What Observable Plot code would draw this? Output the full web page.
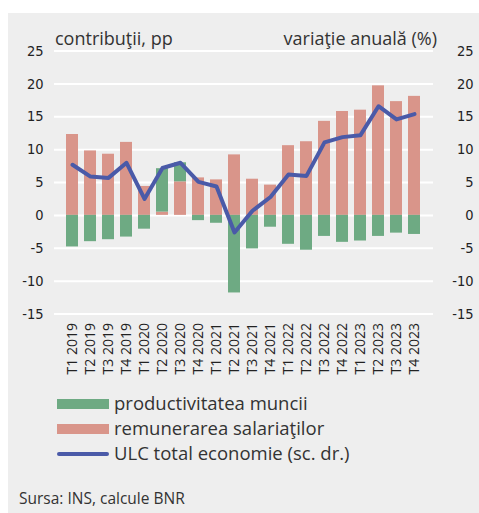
<!DOCTYPE html>
<html>
<head>
<meta charset="utf-8">
<script src="https://cdn.jsdelivr.net/npm/d3@7"></script>
<script src="https://cdn.jsdelivr.net/npm/@observablehq/plot@0.6"></script>
<style>
  html, body { margin: 0; padding: 0; background: #fff; }
  body { width: 479px; height: 513px; position: relative; overflow: hidden; font-family: "Open Sans", sans-serif; }
  #card { position: absolute; left: 8px; top: 13px; right: 0; bottom: 0; background: #eeeeee; }
  #chart { position: absolute; left: 0; top: 0; }
  .ttl { position: absolute; top: 26px; font-size: 18px; color: #333; white-space: nowrap; line-height: 24px; }
  .leg { position: absolute; left: 57px; font-size: 18.5px; color: #333; white-space: nowrap; line-height: 24px; height: 24px; }
  .leg .sw { position: absolute; left: 0; width: 52px; }
  .leg span.t { position: absolute; left: 57px; top: -1px; }
  #src { position: absolute; left: 19px; top: 487px; font-size: 15.5px; color: #333; white-space: nowrap; line-height: 22px; }
</style>
</head>
<body>
<div id="card"></div>
<div id="chart"></div>
<div class="ttl" style="left:55px">contribuţii, pp</div>
<div class="ttl" style="right:42px">variaţie anuală (%)</div>
<div class="leg" style="top:392px"><div class="sw" style="top:7px;height:10px;background:#6eaa83"></div><span class="t">productivitatea muncii</span></div>
<div class="leg" style="top:417px"><div class="sw" style="top:7px;height:10px;background:#d9958a"></div><span class="t">remunerarea salariaţilor</span></div>
<div class="leg" style="top:442px"><div class="sw" style="top:10px;height:4px;border-radius:2px;background:#4a5aa8"></div><span class="t">ULC total economie (sc. dr.)</span></div>
<div id="src">Sursa: INS, calcule BNR</div>
<script>
const quarters = ["T1 2019","T2 2019","T3 2019","T4 2019","T1 2020","T2 2020","T3 2020","T4 2020","T1 2021","T2 2021","T3 2021","T4 2021","T1 2022","T2 2022","T3 2022","T4 2022","T1 2023","T2 2023","T3 2023","T4 2023"];
const remunerare = [12.3, 9.8, 9.3, 11.1, 4.4, 0.5, 5.1, 5.7, 5.4, 9.2, 5.5, 4.6, 10.6, 11.2, 14.3, 15.8, 16.0, 19.7, 17.3, 18.1];
const productivitate = [-4.8, -4.0, -3.7, -3.3, -2.1, 6.6, 2.9, -0.8, -1.2, -11.8, -5.1, -1.8, -4.4, -5.3, -3.2, -4.1, -3.9, -3.2, -2.7, -2.9];
const ulc = [7.7, 5.9, 5.7, 8.0, 2.5, 7.2, 8.0, 5.1, 4.4, -2.6, 0.7, 2.8, 6.2, 6.0, 11.1, 11.9, 12.2, 16.6, 14.6, 15.4];
const yTicks = [-15, -10, -5, 0, 5, 10, 15, 20, 25];

const barData = [];
quarters.forEach((q, i) => {
  barData.push({q, s: "rem", v: remunerare[i]});
  barData.push({q, s: "prod", v: productivitate[i]});
});
const lineData = quarters.map((q, i) => ({q, v: ulc[i]}));

const tickFont = {fontSize: 14.5, fontFamily: "'Liberation Sans Narrow', 'DejaVu Sans Condensed', 'Open Sans', sans-serif", fill: "#222", tickFormat: d => String(d)};

const chart = Plot.plot({
  width: 479,
  height: 390,
  marginLeft: 54,
  marginRight: 46,
  marginTop: 50.5,
  marginBottom: 76.5,
  style: {background: "transparent", fontFamily: "'Open Sans', sans-serif", color: "#222", overflow: "visible"},
  x: {domain: quarters, padding: 0.33, label: null},
  y: {domain: [-15, 25], label: null},
  color: {domain: ["prod", "rem"], range: ["#6eaa83", "#d9958a"]},
  marks: [
    Plot.gridY(yTicks, {stroke: "#ffffff", strokeOpacity: 1, strokeWidth: 2}),
    Plot.barY(barData, {x: "q", y: "v", fill: "s", order: null}),
    Plot.line(lineData, {x: "q", y: "v", stroke: "#4a5aa8", strokeWidth: 4, strokeLinejoin: "round", strokeLinecap: "round"}),
    Plot.axisY(yTicks, {anchor: "left", tickSize: 0, tickPadding: 11, label: null, ...tickFont}),
    Plot.axisY(yTicks, {anchor: "right", tickSize: 0, tickPadding: 40, textAnchor: "end", label: null, ...tickFont}),
    Plot.axisX({tickRotate: -90, tickSize: 0, tickPadding: 9, label: null, fontSize: 14, fontFamily: "'Open Sans', sans-serif", fill: "#222"})
  ]
});
document.getElementById("chart").appendChild(chart);
</script>
</body>
</html>
